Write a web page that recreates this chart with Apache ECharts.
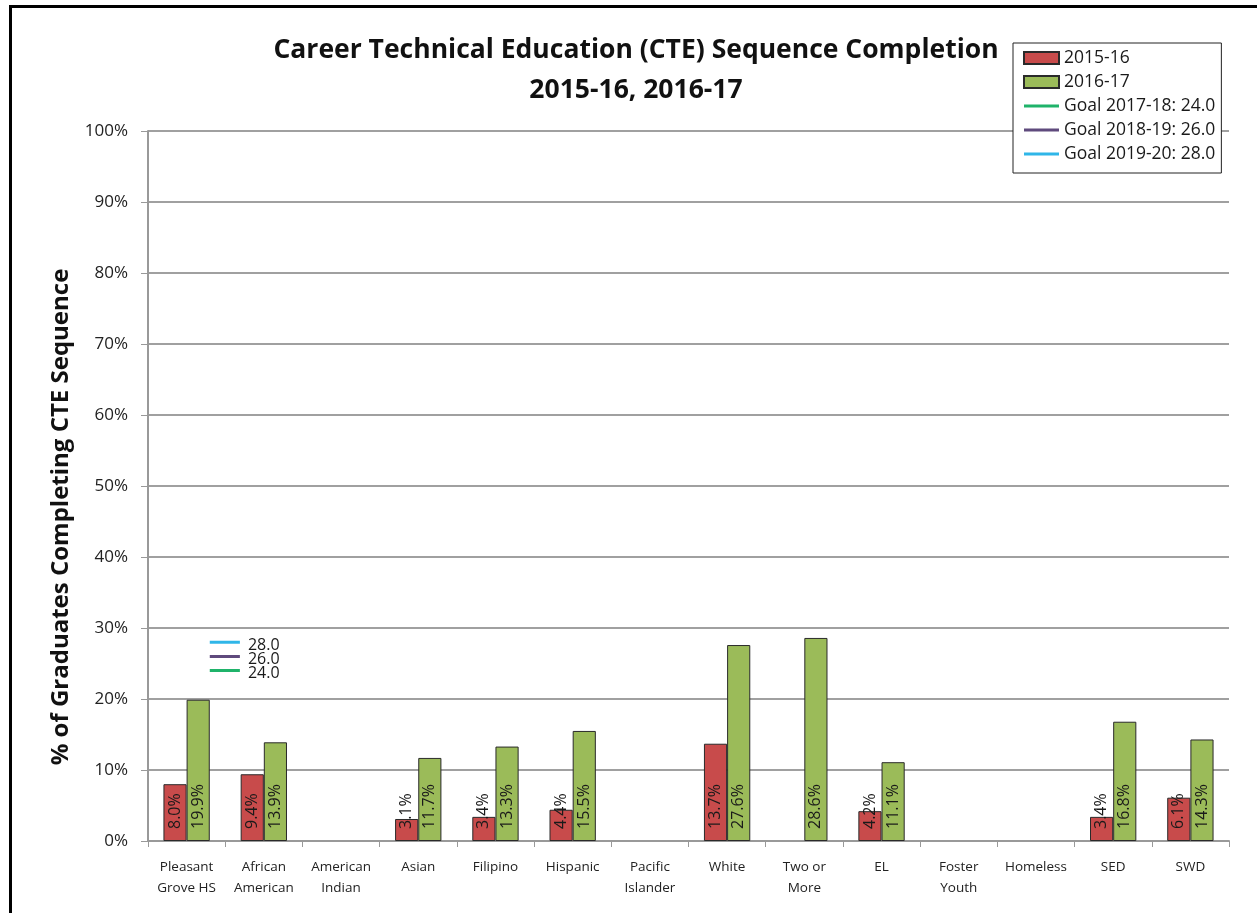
<!DOCTYPE html>
<html>
<head>
<meta charset="utf-8">
<script src="https://cdn.jsdelivr.net/npm/echarts@6/dist/echarts.min.js"></script>
<style>html,body{margin:0;padding:0;background:#fff}#c{width:1257px;height:913px}</style>
</head>
<body>
<div id="c"></div>
<script>
const categories = ['Pleasant\nGrove HS','African\nAmerican','American\nIndian','Asian','Filipino','Hispanic','Pacific\nIslander','White','Two or\nMore','EL','Foster\nYouth','Homeless','SED','SWD'];
const values1516 = [8.0, 9.4, null, 3.1, 3.4, 4.4, null, 13.7, null, 4.2, null, null, 3.4, 6.1];
const values1617 = [19.9, 13.9, null, 11.7, 13.3, 15.5, null, 27.6, 28.6, 11.1, null, null, 16.8, 14.3];
const goalNames = ['Goal 2017-18: 24.0','Goal 2018-19: 26.0','Goal 2019-20: 28.0'];
const goalValues = [24.0, 26.0, 28.0];
const goalSpan = [0.8, 1.19];
const yTicks = [0,10,20,30,40,50,60,70,80,90,100];

const FONT = '"Open Sans", Lato, sans-serif';
const goalColors = ['#1fb36a', '#5f4a7d', '#2fb6e8'];

const chart = echarts.init(document.getElementById('c'), null, {renderer:'canvas'});

const barLabel = {
  show: true, position: 'insideBottom', rotate: 90, align: 'left', verticalAlign: 'middle',
  distance: 12, fontFamily: FONT, fontSize: 16, color: '#1a1a1a',
  formatter: p => (p.value == null ? '' : p.value.toFixed(1) + '%')
};

const series = [
  { name: '2015-16', type: 'bar', xAxisIndex: 0, data: values1516, barGap: '0%', barCategoryGap: '40%',
    itemStyle: { color: '#c84b4b', borderColor: '#2a2a2a', borderWidth: 1 }, label: barLabel },
  { name: '2016-17', type: 'bar', xAxisIndex: 0, data: values1617, barGap: '0%', barCategoryGap: '40%',
    itemStyle: { color: '#9bbb59', borderColor: '#2a2a2a', borderWidth: 1 }, label: barLabel }
];
goalValues.forEach((g, i) => {
  series.push({
    name: goalNames[i], type: 'line', xAxisIndex: 1, yAxisIndex: 0, symbol: 'none',
    data: [[goalSpan[0], g], [goalSpan[1], g]],
    lineStyle: { color: goalColors[i], width: 3 }, itemStyle: { color: goalColors[i] },
    endLabel: { show: true, formatter: g.toFixed(1), fontFamily: FONT, fontSize: 16, color: '#1a1a1a', distance: 8, offset: [0, 3] },
    z: 5
  });
});

const lineIcon = 'path://M0,0 L35,0 L35,3 L0,3 Z';

chart.setOption({
  animation: false,
  backgroundColor: '#fff',
  title: {
    text: 'Career Technical Education (CTE) Sequence Completion\n2015-16, 2016-17',
    left: 631, top: 25, textAlign: 'center',
    textStyle: { fontFamily: FONT, fontSize: 26.5, fontWeight: 'bold', color: '#111', lineHeight: 40 }
  },
  legend: {
    orient: 'vertical', left: 1013, top: 43,
    padding: [6, 6, 10, 10], itemGap: 6, itemWidth: 35, itemHeight: 12,
    borderColor: '#222', borderWidth: 1, backgroundColor: '#fff',
    textStyle: { fontFamily: FONT, fontSize: 17.5, color: '#1a1a1a' },
    data: [
      { name: '2015-16', icon: 'rect' },
      { name: '2016-17', icon: 'rect' },
      ...goalNames.map(n => ({ name: n, icon: lineIcon }))
    ]
  },
  grid: { left: 148, right: 28, top: 131, bottom: 72, containLabel: false },
  xAxis: [
    { type: 'category', data: categories,
      axisLine: { lineStyle: { color: '#999', width: 2 } },
      axisTick: { show: true, length: 6, lineStyle: { color: '#999' } },
      axisLabel: { interval: 0, fontFamily: FONT, fontSize: 13.5, color: '#222', lineHeight: 21, margin: 16 }
    },
    { type: 'value', min: 0, max: 14, show: false }
  ],
  yAxis: {
    type: 'value', min: 0, max: 100, interval: 10,
    name: '% of Graduates Completing CTE Sequence', nameLocation: 'middle', nameGap: 75, nameRotate: 90,
    nameTextStyle: { fontFamily: FONT, fontSize: 24, fontWeight: 'bold', color: '#111', padding: [0, 62, 0, 0] },
    axisLine: { show: true, lineStyle: { color: '#999', width: 2 } },
    axisTick: { show: true, length: 7, lineStyle: { color: '#999' } },
    splitLine: { lineStyle: { color: '#a0a0a0', width: 2 } },
    axisLabel: { fontFamily: FONT, fontSize: 17, color: '#222', margin: 20,
      formatter: v => (yTicks.includes(v) ? v + '%' : '') }
  },
  graphic: [
    { type: 'rect', left: 8, top: 4, shape: { width: 1270, height: 930 }, style: { fill: 'none', stroke: '#000', lineWidth: 3 }, z: 100, silent: true }
  ],
  series: series
});
</script>
</body>
</html>
